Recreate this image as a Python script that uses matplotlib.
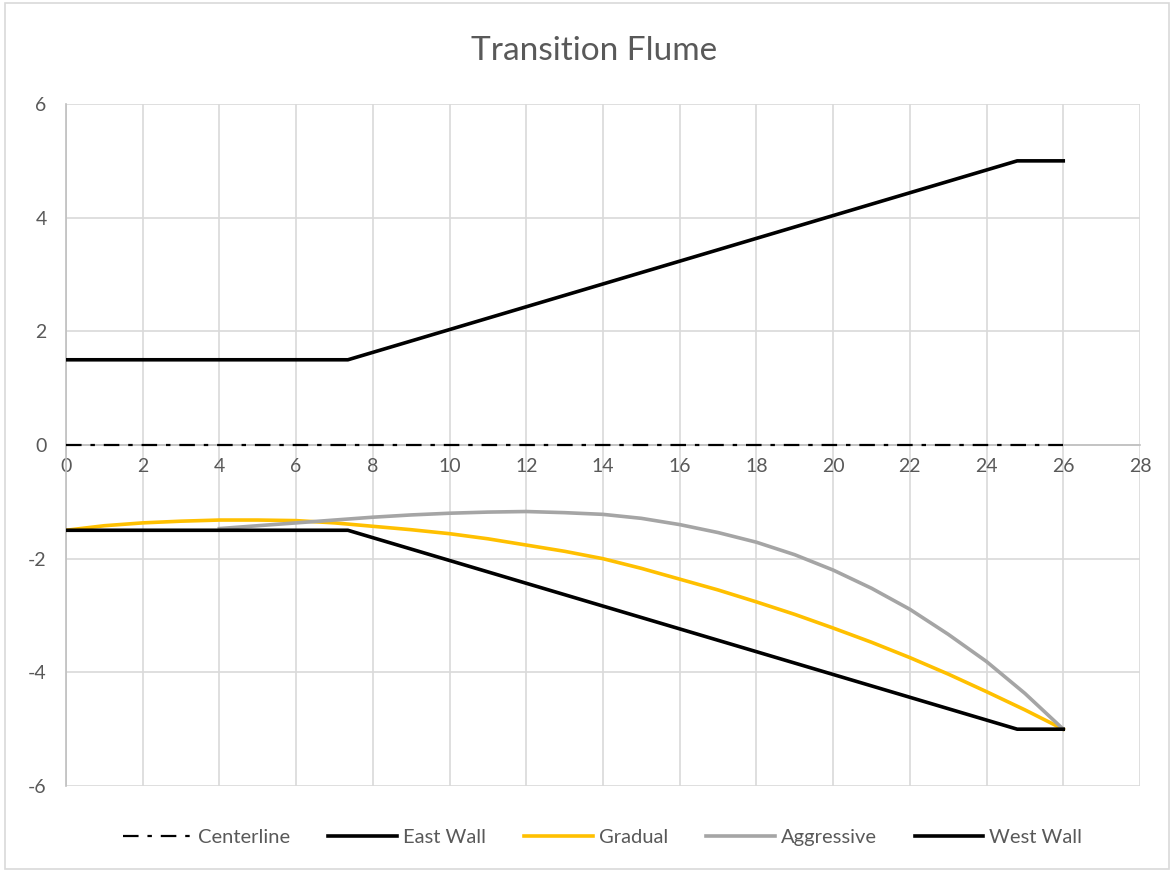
import matplotlib.pyplot as plt
from matplotlib.patches import Rectangle

plt.rcParams["font.family"] = ["Lato", "DejaVu Sans"]
plt.rcParams["axes.unicode_minus"] = False

# wall outlines
east_x = [0, 7.35, 24.8, 26]
east_y = [1.5, 1.5, 5, 5]
west_x = [0, 7.35, 24.8, 26]
west_y = [-1.5, -1.5, -5, -5]
center_x = [0, 26]
center_y = [0, 0]

# transition curves
gradual_x = list(range(0, 27))
gradual_y = [-1.50, -1.42, -1.37, -1.34, -1.32, -1.32, -1.33, -1.37, -1.43,
             -1.49, -1.56, -1.65, -1.76, -1.87, -2.00, -2.17, -2.36, -2.55,
             -2.76, -2.98, -3.22, -3.47, -3.74, -4.03, -4.34, -4.66, -5.00]
aggressive_x = list(range(4, 27))
aggressive_y = [-1.47, -1.42, -1.37, -1.32, -1.27, -1.23, -1.20, -1.18, -1.17,
                -1.19, -1.22, -1.29, -1.40, -1.54, -1.71, -1.93, -2.20, -2.52,
                -2.89, -3.33, -3.81, -4.37, -5.00]

fig = plt.figure(figsize=(11.74, 8.72), dpi=100)
ax = fig.add_axes([0.0562, 0.0986, 0.9148, 0.7821])

grid = "#d9d9d9"
text = "#595959"

ax.plot(center_x, center_y, color="black", lw=1.6, dashes=(7, 4, 2, 4),
        label="Centerline", zorder=3)
ax.plot(east_x, east_y, color="black", lw=2.6, label="East Wall", zorder=3)
ax.plot(gradual_x, gradual_y, color="#FFC000", lw=2.6, label="Gradual", zorder=3)
ax.plot(aggressive_x, aggressive_y, color="#A5A5A5", lw=2.6,
        label="Aggressive", zorder=3)
ax.plot(west_x, west_y, color="black", lw=2.6, label="West Wall", zorder=3)

ax.set_xlim(0, 28)
ax.set_ylim(-6, 6)
ax.set_xticks(range(0, 29, 2))
ax.set_yticks(range(-6, 7, 2))
ax.grid(True, color=grid, lw=1.2)
ax.set_axisbelow(True)

for s in ["top", "right"]:
    ax.spines[s].set_visible(False)
ax.spines["bottom"].set_position(("data", 0))
ax.spines["bottom"].set_color("#bfbfbf")
ax.spines["left"].set_color("#bfbfbf")
ax.spines["bottom"].set_linewidth(1.2)
ax.spines["left"].set_linewidth(1.2)
ax.tick_params(length=0, labelsize=14, labelcolor=text)
ax.tick_params(axis="x", pad=9)
ax.tick_params(axis="y", pad=14)

fig.text(0.506, 0.942, "Transition Flume", ha="center", va="center",
         fontsize=24, color=text)

leg = ax.legend(loc="center", bbox_to_anchor=(0.5, -0.075), ncol=5,
                frameon=False, fontsize=14.5, handlelength=3.4,
                columnspacing=1.9, handletextpad=0.3)
for t in leg.get_texts():
    t.set_color(text)

fig.patches.append(Rectangle((0.004, 0.004), 0.992, 0.992,
                             transform=fig.transFigure, fill=False,
                             edgecolor=grid, lw=1.2))

plt.savefig("out.png")
plt.close()
